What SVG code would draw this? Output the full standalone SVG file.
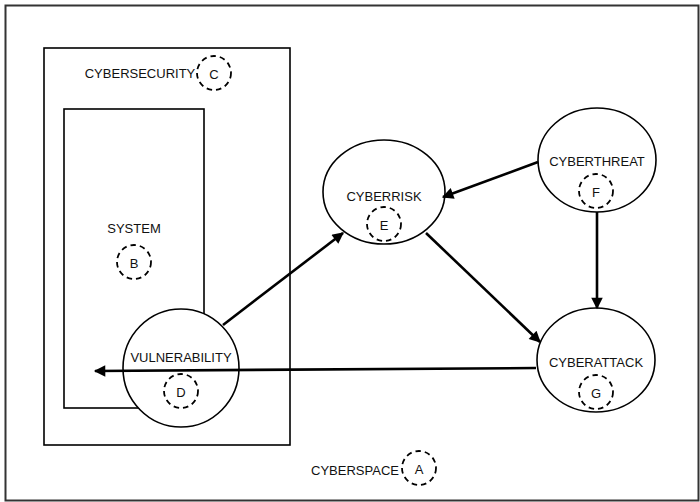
<svg xmlns="http://www.w3.org/2000/svg" width="700" height="502" viewBox="0 0 700 502">
<style>
.box{fill:none;stroke:#000;stroke-width:1.6}
.node{fill:#fff;stroke:#000;stroke-width:1.6}
.tag{fill:none;stroke:#000;stroke-width:1.8;stroke-dasharray:5.5,4}
.lbl{font-family:"Liberation Sans",Arial,sans-serif;font-size:13px;fill:#111;text-anchor:middle;dominant-baseline:central}
.edge{stroke:#000;stroke-width:2.6;fill:none;marker-end:url(#ah)}
</style>
<defs>
<marker id="ah" viewBox="0 0 10 10" refX="9" refY="5" markerWidth="5" markerHeight="4.4" orient="auto" markerUnits="strokeWidth">
<path d="M0,0 L10,5 L0,10 z" fill="#000"/>
</marker>
</defs>
<rect width="700" height="502" fill="#fff"/>
<g id="cyberspace">
<rect x="5.5" y="5.5" width="693" height="495" fill="none" stroke="#333" stroke-width="2"/>
<text class="lbl" x="355" y="470">CYBERSPACE</text>
<circle class="tag" cx="419" cy="468" r="17"/>
<text class="lbl" x="419" y="469">A</text>
</g>
<g id="cybersecurity">
<rect class="box" x="44" y="48" width="246" height="397"/>
<text class="lbl" x="140" y="73">CYBERSECURITY</text>
<circle class="tag" cx="214" cy="73" r="17"/>
<text class="lbl" x="214" y="74">C</text>
</g>
<g id="system">
<rect class="box" x="64" y="109" width="140" height="299"/>
<text class="lbl" x="134" y="228">SYSTEM</text>
<circle class="tag" cx="134" cy="262" r="17"/>
<text class="lbl" x="134" y="263">B</text>
</g>
<g id="vulnerability">
<ellipse class="node" cx="181" cy="368" rx="58" ry="59"/>
<text class="lbl" x="181" y="357">VULNERABILITY</text>
<circle class="tag" cx="181" cy="391" r="17"/>
<text class="lbl" x="181" y="392">D</text>
</g>
<g id="cyberrisk">
<ellipse class="node" cx="384" cy="192" rx="61" ry="52"/>
<text class="lbl" x="384" y="196">CYBERRISK</text>
<circle class="tag" cx="384" cy="224" r="17"/>
<text class="lbl" x="384" y="225">E</text>
</g>
<g id="cyberthreat">
<ellipse class="node" cx="597" cy="160" rx="59" ry="52"/>
<text class="lbl" x="597" y="161">CYBERTHREAT</text>
<circle class="tag" cx="596" cy="191" r="17"/>
<text class="lbl" x="596" y="192">F</text>
</g>
<g id="cyberattack">
<ellipse class="node" cx="596" cy="360" rx="59" ry="52"/>
<text class="lbl" x="596" y="362">CYBERATTACK</text>
<circle class="tag" cx="596" cy="392" r="17"/>
<text class="lbl" x="596" y="393">G</text>
</g>
<g id="connectors">
<line class="edge" x1="223" y1="325" x2="343" y2="233"/>
<line class="edge" x1="538" y1="162" x2="443" y2="197"/>
<line class="edge" x1="426" y1="233" x2="540" y2="342"/>
<line class="edge" x1="597" y1="212" x2="597" y2="308"/>
<line class="edge" x1="536" y1="368" x2="95" y2="371"/>
</g>
</svg>
